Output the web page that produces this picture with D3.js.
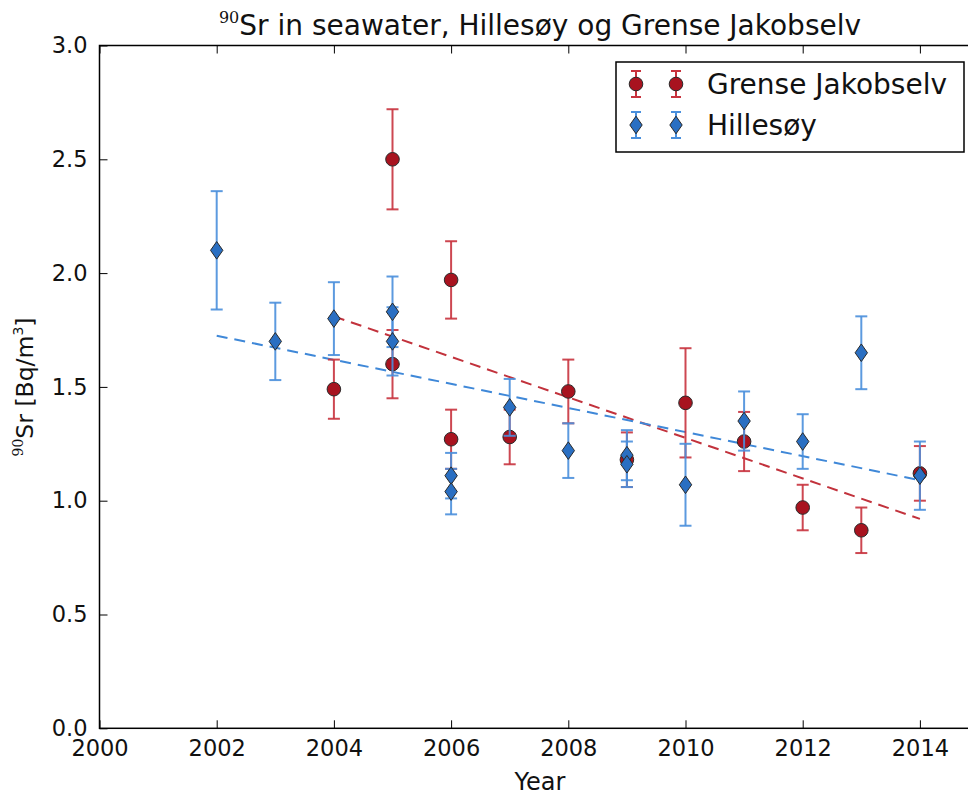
<!DOCTYPE html>
<html>
<head>
<meta charset="utf-8">
<script src="https://cdn.jsdelivr.net/npm/d3@7"></script>
<style>
  body { margin: 0; background: #fff; }
  svg text { font-family: "DejaVu Sans", sans-serif; fill: #111; }
</style>
</head>
<body>
<svg id="chart" width="968" height="796"></svg>
<script>
// Grense Jakobselv measurements (year, activity, uncertainty)
const grenseYears  = [2004, 2005, 2005, 2006, 2006, 2007, 2008, 2009, 2010, 2011, 2012, 2013, 2014];
const grenseValues = [1.49, 2.50, 1.60, 1.97, 1.27, 1.28, 1.48, 1.18, 1.43, 1.26, 0.97, 0.87, 1.12];
const grenseErrors = [0.13, 0.22, 0.15, 0.17, 0.13, 0.12, 0.14, 0.12, 0.24, 0.13, 0.10, 0.10, 0.12];

// Hillesøy measurements
const hillesoyYears  = [2002, 2003, 2004, 2005, 2005, 2006, 2006, 2007, 2008, 2009, 2009, 2010, 2011, 2012, 2013, 2014];
const hillesoyValues = [2.10, 1.70, 1.80, 1.83, 1.70, 1.11, 1.04, 1.41, 1.22, 1.20, 1.16, 1.07, 1.35, 1.26, 1.65, 1.11];
const hillesoyErrors = [0.26, 0.17, 0.16, 0.155, 0.15, 0.10, 0.10, 0.125, 0.12, 0.11, 0.10, 0.18, 0.13, 0.12, 0.16, 0.15];

// Linear trend end points (year, value)
const grenseTrendYears    = [2004, 2014];
const grenseTrendValues   = [1.81, 0.92];
const hillesoyTrendYears  = [2002, 2014];
const hillesoyTrendValues = [1.725, 1.09];

// Axis ticks
const xTicks = [2000, 2002, 2004, 2006, 2008, 2010, 2012, 2014];
const yTicks = [0.0, 0.5, 1.0, 1.5, 2.0, 2.5, 3.0];

const margin = { left: 99.5, top: 45.5 };
const plotW = 879, plotH = 682.8;

const RED = "#a8131f", RED_BAR = "#c8333e";
const BLUE = "#2a6fc2", BLUE_BAR = "#4a8fdc";

const svg = d3.select("#chart");
const x = d3.scaleLinear().domain([2000, 2015]).range([margin.left, margin.left + plotW]);
const y = d3.scaleLinear().domain([0, 3]).range([margin.top + plotH, margin.top]);

const zip = (xs, vs, es) => xs.map((d, i) => ({ year: d, value: vs[i], err: es ? es[i] : 0 }));
const grense = zip(grenseYears, grenseValues, grenseErrors);
const hillesoy = zip(hillesoyYears, hillesoyValues, hillesoyErrors);

// Frame
svg.append("rect")
  .attr("x", x(2000)).attr("y", y(3))
  .attr("width", x(2015) - x(2000)).attr("height", y(0) - y(3))
  .attr("fill", "none").attr("stroke", "#000").attr("stroke-width", 1.5);

// Axes with inward ticks
const tickLen = 8;
const xAxisBottom = d3.axisBottom(x).tickValues(xTicks).tickFormat(d3.format("d"))
  .tickSizeInner(-tickLen).tickSizeOuter(0).tickPadding(12);
const gx = svg.append("g").attr("transform", `translate(0,${y(0)})`).call(xAxisBottom);
gx.select(".domain").remove();
gx.selectAll("text").attr("font-size", 22.5).attr("fill", "#111").attr("dy", "0.71em");
gx.selectAll("line").attr("stroke", "#000").attr("stroke-width", 1);

const xAxisTop = d3.axisTop(x).tickValues(xTicks).tickFormat("").tickSizeInner(-tickLen).tickSizeOuter(0);
const gxt = svg.append("g").attr("transform", `translate(0,${y(3)})`).call(xAxisTop);
gxt.select(".domain").remove();
gxt.selectAll("line").attr("stroke", "#000");

const yAxisLeft = d3.axisLeft(y).tickValues(yTicks).tickFormat(d3.format(".1f"))
  .tickSizeInner(-tickLen).tickSizeOuter(0).tickPadding(12);
const gy = svg.append("g").attr("transform", `translate(${x(2000)},0)`).call(yAxisLeft);
gy.select(".domain").remove();
gy.selectAll("text").attr("font-size", 22.5).attr("fill", "#111");
gy.selectAll("line").attr("stroke", "#000");

// Trend lines
const line = d3.line().x(d => x(d.year)).y(d => y(d.value));
svg.append("path")
  .datum(zip(grenseTrendYears, grenseTrendValues))
  .attr("d", line).attr("fill", "none")
  .attr("stroke", "#c2323c").attr("stroke-width", 2).attr("stroke-dasharray", "11,7");
svg.append("path")
  .datum(zip(hillesoyTrendYears, hillesoyTrendValues))
  .attr("d", line).attr("fill", "none")
  .attr("stroke", "#3f88d8").attr("stroke-width", 2).attr("stroke-dasharray", "11,7");

const capHalf = 6;
const diamond = (h, w) => `M0,${-h}L${w},0L0,${h}L${-w},0Z`;

function errorBars(data, color) {
  const g = svg.append("g").attr("stroke", color).attr("stroke-width", 2).attr("stroke-opacity", 0.9);
  const bars = g.selectAll("g").data(data).join("g");
  bars.append("line")
    .attr("x1", d => x(d.year)).attr("x2", d => x(d.year))
    .attr("y1", d => y(d.value - d.err)).attr("y2", d => y(d.value + d.err));
  bars.append("line")
    .attr("x1", d => x(d.year) - capHalf).attr("x2", d => x(d.year) + capHalf)
    .attr("y1", d => y(d.value + d.err)).attr("y2", d => y(d.value + d.err));
  bars.append("line")
    .attr("x1", d => x(d.year) - capHalf).attr("x2", d => x(d.year) + capHalf)
    .attr("y1", d => y(d.value - d.err)).attr("y2", d => y(d.value - d.err));
}

// Grense Jakobselv
errorBars(grense, RED_BAR);
svg.append("g").selectAll("circle").data(grense).join("circle")
  .attr("cx", d => x(d.year)).attr("cy", d => y(d.value)).attr("r", 6.8)
  .attr("fill", RED).attr("stroke", "#2a2a2a").attr("stroke-width", 1);

// Hillesøy
errorBars(hillesoy, BLUE_BAR);
svg.append("g").selectAll("path").data(hillesoy).join("path")
  .attr("transform", d => `translate(${x(d.year)},${y(d.value)})`)
  .attr("d", diamond(8.8, 6.2))
  .attr("fill", BLUE).attr("stroke", "#2a2a2a").attr("stroke-width", 1);

// Title
const title = svg.append("text")
  .attr("x", 540).attr("y", 35).attr("text-anchor", "middle").attr("font-size", 28);
title.append("tspan").attr("font-family", "DejaVu Serif, serif").attr("font-size", 16).attr("dy", -12).text("90");
title.append("tspan").attr("dy", 12).text("Sr in seawater, Hillesøy og Grense Jakobselv");

// Axis labels
svg.append("text").attr("x", 540).attr("y", 790).attr("text-anchor", "middle")
  .attr("font-size", 24).text("Year");

const yl = svg.append("text")
  .attr("transform", "translate(33,387) rotate(-90)")
  .attr("text-anchor", "middle").attr("font-size", 23.5);
yl.append("tspan").attr("font-family", "DejaVu Serif, serif").attr("font-size", 14).attr("dy", -10).text("90");
yl.append("tspan").attr("dy", 10).text("Sr [Bq/m");
yl.append("tspan").attr("font-size", 14).attr("dy", -10).text("3");
yl.append("tspan").attr("dy", 10).text("]");

// Legend
const lg = svg.append("g");
lg.append("rect").attr("x", 616).attr("y", 62).attr("width", 348).attr("height", 90)
  .attr("fill", "#fff").attr("stroke", "#000").attr("stroke-width", 1.5);

const legendItems = [
  { name: "Grense Jakobselv", kind: "circle", fill: RED, bar: RED_BAR, cy: 84 },
  { name: "Hillesøy", kind: "diamond", fill: BLUE, bar: BLUE_BAR, cy: 125 }
];
legendItems.forEach(it => {
  [636, 676].forEach(cx => {
    const g = lg.append("g").attr("transform", `translate(${cx},${it.cy})`);
    g.append("line").attr("x1", 0).attr("x2", 0).attr("y1", -13).attr("y2", 13)
      .attr("stroke", it.bar).attr("stroke-width", 2);
    [-13, 13].forEach(o => g.append("line").attr("x1", -5).attr("x2", 5).attr("y1", o).attr("y2", o)
      .attr("stroke", it.bar).attr("stroke-width", 2));
    if (it.kind === "circle") {
      g.append("circle").attr("r", 6.8).attr("fill", it.fill).attr("stroke", "#2a2a2a");
    } else {
      g.append("path").attr("d", diamond(8.8, 6.2)).attr("fill", it.fill).attr("stroke", "#2a2a2a");
    }
  });
  lg.append("text").attr("x", 707).attr("y", it.cy + 10).attr("font-size", 28).text(it.name);
});
</script>
</body>
</html>
